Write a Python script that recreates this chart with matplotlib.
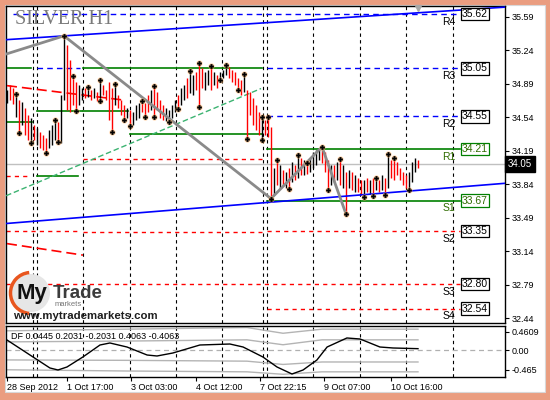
import matplotlib
matplotlib.use("Agg")
import matplotlib.pyplot as plt
import matplotlib.patches as mpatches

plt.rcParams['font.family'] = ['Liberation Sans', 'DejaVu Sans']

W, H = 550, 400

# ---- hourly price bars ----
bar_high = [34.82, 34.88, 34.85, 34.78, 34.72, 34.70, 34.64, 34.56, 34.53, 34.46,
            34.43, 34.39, 34.35, 34.32, 34.41, 34.46, 34.51, 34.49, 34.77, 35.39,
            35.29, 35.14, 34.97, 34.91, 34.88, 34.85, 34.85, 34.86, 34.82, 34.85,
            34.80, 34.93, 34.88, 34.82, 34.91, 34.85, 34.89, 34.77, 34.72, 34.67,
            34.64, 34.62, 34.59, 34.67, 34.69, 34.71, 34.69, 34.77, 34.82, 34.87,
            34.80, 34.72, 34.67, 34.64, 34.62, 34.67, 34.72, 34.77, 34.85, 34.88,
            34.95, 35.02, 34.98, 35.01, 35.11, 35.05, 35.01, 35.03, 35.08, 35.01,
            34.98, 35.01, 35.03, 35.09, 35.06, 35.03, 35.01, 34.95, 34.93, 34.99,
            34.82, 34.80, 34.74, 34.67, 34.59, 34.54, 34.51, 34.54, 34.44, 34.01,
            34.09, 34.04, 33.99, 33.97, 34.01, 34.07, 34.04, 34.15, 34.11, 34.09,
            34.06, 34.11, 34.18, 34.20, 34.22, 34.23, 34.18, 34.09, 34.04, 34.04,
            34.07, 34.10, 34.04, 33.97, 33.99, 33.97, 33.94, 33.91, 33.88, 33.88,
            33.91, 33.88, 33.91, 33.91, 33.88, 33.94, 33.91, 34.16, 34.09, 34.11,
            34.07, 34.01, 33.97, 33.94, 33.97, 34.07, 34.11, 34.09]
bar_low = [34.69, 34.72, 34.68, 34.54, 34.38, 34.46, 34.35, 34.30, 34.27, 34.30,
           34.25, 34.22, 34.20, 34.17, 34.22, 34.25, 34.30, 34.28, 34.27, 34.72,
           34.62, 34.59, 34.67, 34.60, 34.67, 34.72, 34.74, 34.75, 34.72, 34.74,
           34.71, 34.71, 34.77, 34.72, 34.51, 34.39, 34.67, 34.64, 34.56, 34.51,
           34.53, 34.45, 34.46, 34.51, 34.53, 34.59, 34.54, 34.59, 34.62, 34.54,
           34.62, 34.53, 34.51, 34.50, 34.49, 34.53, 34.59, 34.63, 34.67, 34.72,
           34.74, 34.79, 34.77, 34.82, 34.65, 34.85, 34.82, 34.88, 34.82, 34.88,
           34.85, 34.93, 34.95, 34.98, 34.95, 34.91, 34.88, 34.82, 34.77, 34.80,
           34.31, 34.56, 34.46, 34.41, 34.35, 34.30, 34.35, 34.33, 33.69, 33.73,
           33.83, 33.80, 33.82, 33.80, 33.79, 33.86, 33.88, 33.91, 33.94, 33.94,
           33.95, 33.97, 34.01, 34.04, 34.09, 34.06, 33.97, 33.78, 33.83, 33.86,
           33.88, 33.83, 33.80, 33.53, 33.80, 33.78, 33.76, 33.76, 33.73, 33.71,
           33.76, 33.74, 33.72, 33.78, 33.76, 33.78, 33.73, 33.80, 33.91, 33.88,
           33.94, 33.88, 33.83, 33.80, 33.78, 33.86, 33.97, 34.01]
bar_up = [1, 0, 0, 1, 0, 1, 0, 0, 1, 0, 1, 0, 0, 0, 1, 1, 1, 0, 1, 1,
          0, 0, 0, 0, 1, 1, 0, 1, 0, 1, 0, 1, 0, 0, 0, 0, 1, 0, 0, 0,
          1, 0, 1, 1, 1, 0, 0, 0, 1, 0, 0, 0, 0, 1, 1, 1, 1, 0, 1, 1,
          0, 1, 1, 0, 0, 0, 1, 1, 0, 1, 0, 1, 1, 1, 0, 0, 0, 0, 0, 1,
          0, 0, 0, 0, 0, 1, 0, 0, 0, 1, 0, 1, 0, 1, 0, 1, 0, 1, 0, 1,
          0, 1, 1, 1, 1, 0, 0, 0, 1, 0, 1, 0, 1, 0, 1, 0, 1, 0, 0, 1,
          0, 1, 0, 1, 0, 1, 0, 1, 0, 0, 0, 0, 0, 0, 1, 1, 1, 0]

# fractal bars (upper / lower)
fractal_up = [3, 16, 19, 22, 27, 31, 36, 45, 49, 61, 64, 68, 73, 79, 85, 87, 90,
              97, 100, 105, 111, 123, 127, 129]
fractal_dn = [4, 8, 13, 17, 23, 31, 35, 39, 41, 46, 49, 54, 57, 64, 71, 77, 80,
              85, 88, 94, 107, 113, 119, 122, 126, 134]

# zigzag swing points
zz_bar = [-0.3, 19, 88, 105, 113]
zz_price = [35.20, 35.39, 33.69, 34.23, 33.53]

# trend lines (bar, price)
chan_top_bar, chan_top_price = [-0.3, 166], [35.35, 35.69]
chan_bot_bar, chan_bot_price = [-0.3, 166], [33.43, 33.85]
ma_bar, ma_price = [-0.3, 84.7], [33.72, 34.84]
red_top_bar, red_top_price = [0, 38.7], [34.87, 34.72]
red_bot_bar, red_bot_price = [0, 25.3], [33.22, 33.10]

# pivot levels for the current session
piv_names = ['R4', 'R3', 'R2', 'R1', 'S1', 'S2', 'S3', 'S4']
piv_values = [35.62, 35.05, 34.55, 34.21, 33.67, 33.35, 32.80, 32.54]
piv_kind = ['res', 'res', 'res', 'near', 'near', 'sup', 'sup', 'sup']
piv_start = [2, 86.7, 86.7, 86.7, 86.7, 86.7, -0.3, 86.7]
piv_end = 151

# earlier session levels
seg_x0 = [-0.3, -0.3, -0.3, -0.3, 10, 10, 10, 25.3, 25.3, 41, 25.3, 25.3]
seg_x1 = [8, 8.3, 7, 23.3, 24.3, 25, 23.7, 85, 40.3, 85, 85, 85]
seg_price = [35.05, 34.49, 33.93, 33.35, 35.05, 34.60, 33.93, 35.05, 34.60, 34.36,
             34.10, 33.34]
seg_kind = ['near', 'near', 'sup', 'sup', 'res', 'near', 'near', 'near', 'near',
            'near', 'sup', 'sup']

last_price = 34.05

# time grid
grid_bars = [8.67, 10, 25.33, 41, 56.33, 71.67, 85.33, 86.67, 102, 117.67, 133, 148.67]
time_pos = [0, 20, 41.3, 63, 84.3, 105.7, 128]
time_labels = ['28 Sep 2012', '1 Oct 17:00', '3 Oct 03:00', '4 Oct 12:00',
               '7 Oct 22:15', '9 Oct 07:00', '10 Oct 16:00']
price_ticks = [35.59, 35.24, 34.89, 34.54, 34.19, 33.84, 33.49, 33.14, 32.79, 32.44]

# oscillator
osc_bar = [0, 8.67, 14.3, 17, 20, 25.3, 31, 34.3, 40, 46.7, 50, 55.3, 64.3, 74.3,
           78.7, 85.3, 90, 95, 98.7, 103.3, 106.7, 113.3, 117.7, 124.3, 128.7, 137]
osc_val = [0.256, -0.158, -0.426, -0.475, -0.402, -0.158, 0.134, 0.183, 0.085,
           -0.110, -0.134, -0.061, 0.134, 0.158, 0.085, -0.158, -0.402, -0.573,
           -0.475, -0.232, 0.085, 0.305, 0.280, 0.085, 0.061, 0.0445]
band_bar = [0, 40, 80, 92, 105, 137]
band_up2 = [0.48, 0.52, 0.56, 0.42, 0.52, 0.52]
band_up1 = [0.21, 0.23, 0.26, 0.14, 0.26, 0.26]
band_dn1 = [-0.23, -0.24, -0.26, -0.34, -0.28, -0.28]
band_dn2 = [-0.47, -0.50, -0.52, -0.58, -0.52, -0.52]

STYLE = {
    'res': dict(color='#0000ff', lw=1.0, ls=(0, (4, 3))),
    'near': dict(color='#008000', lw=1.2, ls='-'),
    'sup': dict(color='#ff0000', lw=1.0, ls=(0, (3, 3))),
}
TEXT_COL = {'res': 'black', 'near': '#2f6b00', 'sup': 'black'}
BOX_COL = {'res': 'black', 'near': '#008000', 'sup': 'black'}


def fx(x):
    return x / W


def fy(y):
    return 1 - y / H


fig = plt.figure(figsize=(W / 100, H / 100), dpi=100)
fig.patch.set_facecolor('#ea9d80')
fig.patches.append(mpatches.Rectangle((fx(5), fy(392)), 540 / W, 387 / H,
                                      transform=fig.transFigure, facecolor='white',
                                      edgecolor='#d8d8d8', lw=0.8, zorder=-5))

ax = fig.add_axes([fx(6), fy(322.7), 499 / W, 317 / H])
ax2 = fig.add_axes([fx(6), fy(377), 499 / W, 51 / H])
for a in (ax, ax2):
    a.set_xlim(-0.33, 166)
    a.set_facecolor('white')
    for s in a.spines.values():
        s.set_color('black')
        s.set_linewidth(1.0)
    for g in grid_bars:
        a.axvline(g, color='black', lw=0.8, ls=(0, (3, 3)), zorder=1)
ax.set_ylim(32.394, 35.705)
ax2.set_ylim(-0.646, 0.597)

# price axis
ax.yaxis.tick_right()
ax.set_yticks(price_ticks)
ax.set_yticklabels([f"{v:.2f}" for v in price_ticks])
ax.tick_params(axis='y', direction='out', length=3, width=0.8, labelsize=6.5, pad=2)
ax.set_xticks([])

# level segments
for x0, x1, p, k in zip(seg_x0, seg_x1, seg_price, seg_kind):
    ax.plot([x0, x1], [p, p], zorder=2, **STYLE[k])
for name, v, k, x0 in zip(piv_names, piv_values, piv_kind, piv_start):
    ax.plot([x0, piv_end], [v, v], zorder=2, **STYLE[k])
    ax.annotate(name, (piv_end - 1.5, v), xytext=(0, -2), textcoords='offset points',
                ha='right', va='top', fontsize=7.5, color=TEXT_COL[k], zorder=6)
    ax.text(piv_end + 0.6, v, f"{v:.2f}", ha='left', va='center', fontsize=7.5,
            color=TEXT_COL[k], zorder=6,
            bbox=dict(boxstyle='square,pad=0.12', fc='white', ec=BOX_COL[k], lw=0.9))

# current price line
ax.axhline(last_price, color='#c0c0c0', lw=1.0, zorder=2)

# trend lines
ax.plot(ma_bar, ma_price, color='#3cb371', lw=1.0, ls=(0, (4, 2)), zorder=3)
ax.plot(red_top_bar, red_top_price, color='#ff0000', lw=1.2, ls=(0, (6, 3)), zorder=3)
ax.plot(red_bot_bar, red_bot_price, color='#ff0000', lw=1.2, ls=(0, (6, 3)), zorder=3)

# bars
n = len(bar_high)
idx = list(range(n))
cols = ['black' if u else '#ff0000' for u in bar_up]
ax.vlines(idx, bar_low, bar_high, colors=cols, lw=1.0, zorder=4)

ax.plot(chan_top_bar, chan_top_price, color='#0000ff', lw=1.2, zorder=5)
ax.plot(chan_bot_bar, chan_bot_price, color='#0000ff', lw=1.2, zorder=5)
ax.plot(zz_bar, zz_price, color='#8a8a8a', lw=2.0, zorder=5, solid_capstyle='round')

# fractal markers
fu_y = [bar_high[i] for i in fractal_up]
fd_y = [bar_low[i] for i in fractal_dn]
for xs, ys in ((fractal_up, fu_y), (fractal_dn, fd_y)):
    ax.plot(xs, ys, ls='none', marker='o', ms=4.5, mfc='#ffb060', mec='none', alpha=0.55, zorder=6)
    ax.plot(xs, ys, ls='none', marker='P', ms=3.4, mfc='black', mec='black', mew=0.2, zorder=7)

# chart shift marker
ax.plot([n - 1], [35.68], marker='v', color='#a8a8a8', ms=5, clip_on=False, zorder=8)

# title
ax.text(0.018, 0.985, 'SILVER H1', transform=ax.transAxes, ha='left', va='top',
        fontsize=14.5, family='Liberation Serif', color='#7a7a7a', zorder=8)

# last price tag
ax.text(1.005, last_price, f"{last_price:.2f}", transform=ax.get_yaxis_transform(),
        ha='left', va='center', fontsize=7, color='white', zorder=9, clip_on=False,
        bbox=dict(boxstyle='square,pad=0.3', fc='black', ec='black'))

# oscillator panel
ax2.axhline(0, color='#b0b0b0', lw=0.9, ls=(0, (4, 3)), zorder=2)
for band in (band_up2, band_up1, band_dn1, band_dn2):
    ax2.plot(band_bar, band, color='#b4b4b4', lw=1.0, zorder=2)
ax2.plot(osc_bar, osc_val, color='black', lw=1.0, zorder=4)
ax2.text(0.01, 0.80, 'DF 0.0445 0.2031 -0.2031 0.4063 -0.4063', transform=ax2.transAxes,
         ha='left', va='center', fontsize=6.5, color='black', zorder=5)
ax2.yaxis.tick_right()
ax2.set_yticks([0.4609, 0.0, -0.465])
ax2.set_yticklabels(['0.4609', '0.00', '-0.465'])
ax2.tick_params(axis='y', direction='out', length=3, width=0.8, labelsize=6.5, pad=2)
ax2.set_xticks(time_pos)
ax2.set_xticklabels(time_labels)
ax2.tick_params(axis='x', direction='out', length=3, width=0.8, labelsize=6.5, pad=1.5)
for lab in ax2.get_xticklabels():
    lab.set_horizontalalignment('left')

# logo
inch = fig.dpi_scale_trans
fig.patches.append(mpatches.Circle((0.31, (H - 293) / 100), 0.19, transform=inch,
                                   facecolor='#e6e6e6', edgecolor='none', zorder=3))
fig.patches.append(mpatches.Arc((0.31, (H - 293) / 100), 0.41, 0.41, theta1=95, theta2=265,
                                transform=inch, color='#e8561f', lw=2.5, zorder=4))
fig.text(fx(17), fy(293), 'My', ha='left', va='center', fontsize=16, weight='bold',
         color='#111111', zorder=5)
fig.text(fx(53), fy(293), 'Trade', ha='left', va='center', fontsize=13.5, weight='bold',
         color='#3c3c3c', zorder=5)
fig.text(fx(55), fy(305), 'markets', ha='left', va='center', fontsize=5.5,
         color='#777777', zorder=5)
fig.text(fx(13), fy(316), 'www.mytrademarkets.com', ha='left', va='center', fontsize=8.2,
         weight='bold', color='#1e1e1e', zorder=5)

fig.savefig('out.png', dpi=100, facecolor=fig.get_facecolor())
